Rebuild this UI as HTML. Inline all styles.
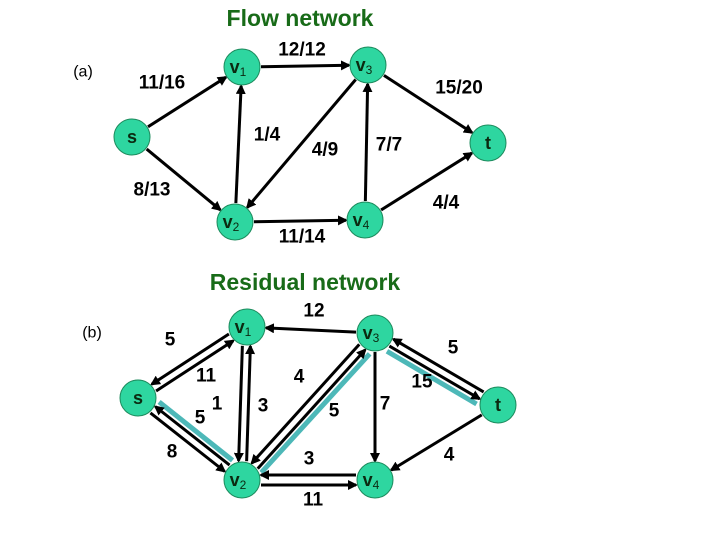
<!DOCTYPE html>
<html><head><meta charset="utf-8"><style>
html,body{margin:0;padding:0;background:#fff;}
svg{display:block;font-family:"Liberation Sans",sans-serif;}
.l{font-weight:bold;font-size:19px;fill:#000;text-anchor:middle;dominant-baseline:central;}
.t{font-weight:bold;font-size:23px;fill:#186b18;text-anchor:middle;dominant-baseline:central;}
.p{font-size:16px;fill:#000;text-anchor:middle;dominant-baseline:central;}
.n{font-weight:bold;font-size:18px;fill:#0b2a10;text-anchor:middle;dominant-baseline:central;}
</style></head><body>
<svg id="s" width="720" height="540" viewBox="0 0 720 540" xmlns="http://www.w3.org/2000/svg">
<defs><marker id="a" markerWidth="10" markerHeight="10" refX="8" refY="5" orient="auto" markerUnits="userSpaceOnUse"><path d="M0,0 L10,5 L0,10 z" fill="#000"/></marker></defs>
<text class="t" x="300" y="18">Flow network</text>
<text class="t" x="305" y="282">Residual network</text>
<text class="p" x="83" y="72">(a)</text>
<text class="p" x="92" y="333">(b)</text>
<g id="g"></g>
<text class="l" x="162" y="83">11/16</text>
<text class="l" x="302" y="50">12/12</text>
<text class="l" x="459" y="88">15/20</text>
<text class="l" x="267" y="135">1/4</text>
<text class="l" x="325" y="150">4/9</text>
<text class="l" x="389" y="145">7/7</text>
<text class="l" x="152" y="190">8/13</text>
<text class="l" x="446" y="203">4/4</text>
<text class="l" x="302" y="237">11/14</text>
<text class="l" x="170" y="340">5</text>
<text class="l" x="314" y="311">12</text>
<text class="l" x="453" y="348">5</text>
<text class="l" x="206" y="376">11</text>
<text class="l" x="299" y="377">4</text>
<text class="l" x="422" y="382">15</text>
<text class="l" x="217" y="404">1</text>
<text class="l" x="263" y="406">3</text>
<text class="l" x="334" y="411">5</text>
<text class="l" x="385" y="404">7</text>
<text class="l" x="200" y="418">5</text>
<text class="l" x="172" y="452">8</text>
<text class="l" x="309" y="459">3</text>
<text class="l" x="449" y="455">4</text>
<text class="l" x="313" y="500">11</text>
</svg>
<script>
var g=document.getElementById('g'),NS='http://www.w3.org/2000/svg',R=18;
var A={s:[132,137],v1:[242,67],v3:[368,65],t:[488,143],v2:[235,222],v4:[365,220]};
var B={s:[138,398],v1:[247,327],v3:[375,333],t:[498,405],v2:[242,480],v4:[375,480]};
var hl=[],ed=[];
function edge(P,a,b,off,h){var p=P[a],q=P[b],dx=q[0]-p[0],dy=q[1]-p[1],L=Math.hypot(dx,dy),ux=dx/L,uy=dy/L,nx=-uy*off,ny=ux*off;
var x1=p[0]+ux*(R+1)+nx,y1=p[1]+uy*(R+1)+ny,x2=q[0]-ux*(R+1)+nx,y2=q[1]-uy*(R+1)+ny;
if(h){hl.push([x1-nx*0.3+(-uy*6)*Math.sign(off||1),y1+(ux*6)*Math.sign(off||1),x2+(-uy*6)*Math.sign(off||1),y2+(ux*6)*Math.sign(off||1)]);}
ed.push([x1,y1,x2,y2]);}
[['s','v1'],['s','v2'],['v1','v3'],['v2','v1'],['v3','v2'],['v3','t'],['v4','v3'],['v2','v4'],['v4','t']].forEach(function(e){edge(A,e[0],e[1],0)});
edge(B,'s','v1',4);edge(B,'v1','s',4);edge(B,'v1','v2',4);edge(B,'v2','v1',4);
edge(B,'v2','s',4,1);edge(B,'s','v2',4);edge(B,'v2','v3',4,1);edge(B,'v3','v2',4);
edge(B,'v3','v1',0);edge(B,'v3','v4',0);edge(B,'v3','t',4,1);edge(B,'t','v3',4);
edge(B,'t','v4',0);edge(B,'v2','v4',5);edge(B,'v4','v2',5);
var h='';
hl.forEach(function(l){h+='<line x1="'+l[0]+'" y1="'+l[1]+'" x2="'+l[2]+'" y2="'+l[3]+'" stroke="#4db8b8" stroke-width="5"/>'});
ed.forEach(function(l){h+='<line x1="'+l[0]+'" y1="'+l[1]+'" x2="'+l[2]+'" y2="'+l[3]+'" stroke="#000" stroke-width="3" marker-end="url(#a)"/>'});
function nodes(P){for(var k in P){var p=P[k];h+='<circle cx="'+p[0]+'" cy="'+p[1]+'" r="'+R+'" fill="#2ed6a0" stroke="#1c8a5c" stroke-width="1"/>';
if(k.length>1)h+='<text class="n" x="'+(p[0]-4)+'" y="'+p[1]+'">v<tspan font-size="12" font-weight="normal" dy="5">'+k[1]+'</tspan></text>';
else h+='<text class="n" x="'+p[0]+'" y="'+p[1]+'">'+k+'</text>';}}
nodes(A);nodes(B);g.innerHTML=h;
</script>
</body></html>
